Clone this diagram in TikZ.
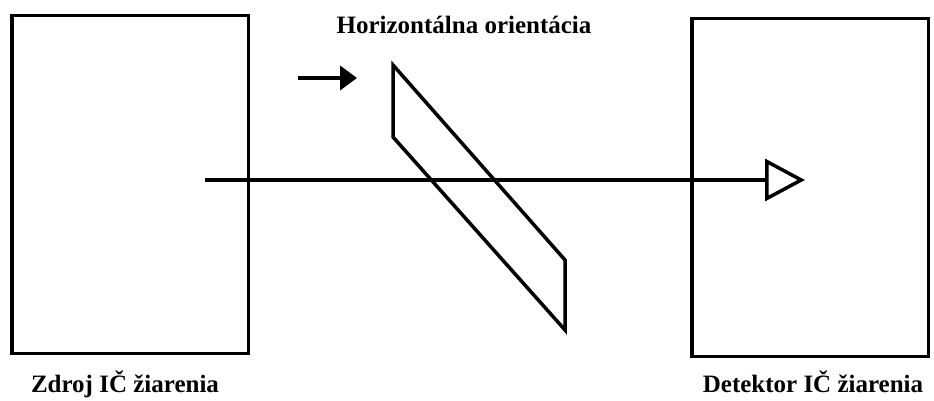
\documentclass[tikz,border=0pt]{standalone}
\usepackage{fontspec}
\setmainfont{Liberation Serif}
\usetikzlibrary{positioning, arrows.meta}

\begin{document}
\begin{tikzpicture}[x=1pt, y=-1pt,
    unit/.style={draw, line width=3.5pt, minimum width=236.5pt, minimum height=337.5pt, inner sep=0pt},
    lbl/.style={font=\bfseries\fontsize{25}{28}\selectfont, inner sep=0pt},
    beam/.style={line width=3.5pt, -{Triangle[open, length=40pt, width=42pt, line width=3.5pt]}},
    push/.style={line width=4.5pt, -{Triangle[length=17pt, width=24pt]}},
    plate/.style={line width=3.5pt, line join=miter}
]
\useasboundingbox (0,0) rectangle (934,401);

% source and detector
\node[unit] (src) at (130,184.5) {};
\node[unit] (det) at (810,187.5) {};
\node[lbl, below=16pt of src.south, xshift=-5pt] (srclbl) {Zdroj IČ žiarenia};
\node[lbl, below=13pt of det.south, xshift=3pt] (detlbl) {Detektor IČ žiarenia};

% polarizer plate
\draw[plate] (393,65) -- (565,260) -- (565,330) -- (393,137) -- cycle;
\node[lbl] (orient) at (464,25) {Horizontálna orientácia};
\coordinate (pusha) at (298,78);
\coordinate (pushb) at (357,78);
\draw[push] (pusha) -- (pushb);

% IR beam
\coordinate (beama) at (205,180);
\coordinate (beamb) at (805,180);
\draw[beam] (beama) -- (beamb);

\end{tikzpicture}
\end{document}
